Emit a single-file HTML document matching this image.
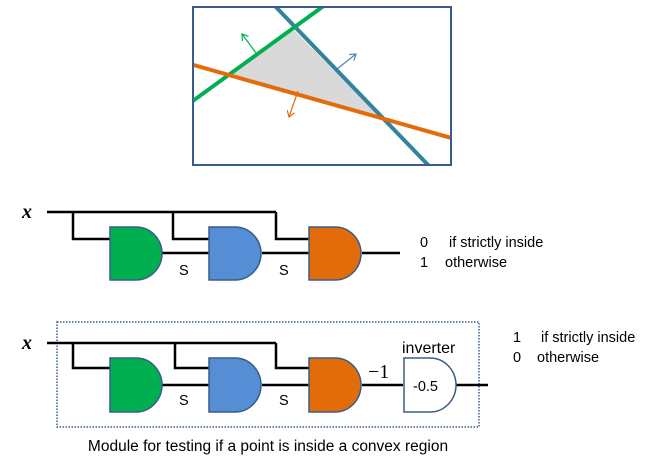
<!DOCTYPE html>
<html><head><style>body{margin:0;background:#fff}svg{display:block}text{font-family:"Liberation Sans",sans-serif;font-size:14.5px;fill:#000}</style></head><body>
<svg width="654" height="462" viewBox="0 0 654 462">
<defs>
<marker id="ag" markerWidth="8" markerHeight="8" refX="6" refY="4" orient="auto" markerUnits="userSpaceOnUse"><path d="M0,0 L6,4 L0,8" fill="none" stroke="#00b050" stroke-width="1.2"/></marker>
<marker id="ab" markerWidth="8" markerHeight="8" refX="6" refY="4" orient="auto" markerUnits="userSpaceOnUse"><path d="M0,0 L6,4 L0,8" fill="none" stroke="#4f81bd" stroke-width="1.2"/></marker>
<marker id="ao" markerWidth="8" markerHeight="8" refX="6" refY="4" orient="auto" markerUnits="userSpaceOnUse"><path d="M0,0 L6,4 L0,8" fill="none" stroke="#e36c0a" stroke-width="1.2"/></marker>
<clipPath id="c"><rect x="193" y="7" width="258" height="158"/></clipPath>
</defs>
<g clip-path="url(#c)">
<polygon points="294,30 230,75 383,120" fill="#d9d9d9"/>
<line x1="273" y1="4" x2="431" y2="168" stroke="#31849b" stroke-width="4"/>
<line x1="190" y1="103" x2="325" y2="5" stroke="#00b050" stroke-width="4"/>
<line x1="190" y1="64" x2="455" y2="139" stroke="#e36c0a" stroke-width="4"/>
</g>
<rect x="193" y="7" width="258" height="158" fill="none" stroke="#385d8a" stroke-width="2"/>
<line x1="256" y1="53" x2="242" y2="34" stroke="#00b050" stroke-width="1.2" marker-end="url(#ag)"/>
<line x1="337" y1="69" x2="356" y2="54" stroke="#4f81bd" stroke-width="1.2" marker-end="url(#ab)"/>
<line x1="298" y1="91" x2="289" y2="117" stroke="#e36c0a" stroke-width="1.2" marker-end="url(#ao)"/>

<text x="22" y="218" style="font-family:'Liberation Serif',serif;font-style:italic;font-weight:bold;font-size:20px">x</text>
<path d="M47,212 H276 M73,212 V239 H110 M173,212 V239 H209 M276,212 V239 H309 M162,253 H209 M262,253 H309 M362,253 H400" stroke="#000" stroke-width="2.5" fill="none"/>
<path d="M110,227 H136 A26,26.5 0 0 1 136,280 H110 Z" fill="#00b050" stroke="#385d8a" stroke-width="1.5"/>
<path d="M209,227 H235 A26,26.5 0 0 1 235,280 H209 Z" fill="#558ed5" stroke="#385d8a" stroke-width="1.5"/>
<path d="M309,227 H335 A26,26.5 0 0 1 335,280 H309 Z" fill="#e36c0a" stroke="#385d8a" stroke-width="1.5"/>
<text x="179" y="275">S</text><text x="279" y="275">S</text>
<text x="420" y="247">0</text><text x="449" y="247">if strictly inside</text>
<text x="420" y="267">1</text><text x="445" y="267">otherwise</text>

<rect x="57" y="322" width="422" height="105" fill="none" stroke="#385d8a" stroke-width="1.5" stroke-dasharray="1.5,1.5"/>
<text x="22" y="349" style="font-family:'Liberation Serif',serif;font-style:italic;font-weight:bold;font-size:20px">x</text>
<path d="M47,343 H276 M73,343 V368 H110 M175,343 V368 H209 M276,343 V368 H309 M162,385 H209 M262,385 H309 M362,385 H403 M456,385 H488" stroke="#000" stroke-width="2.5" fill="none"/>
<path d="M110,358 H136 A26,27 0 0 1 136,412 H110 Z" fill="#00b050" stroke="#385d8a" stroke-width="1.5"/>
<path d="M209,358 H235 A26,27 0 0 1 235,412 H209 Z" fill="#558ed5" stroke="#385d8a" stroke-width="1.5"/>
<path d="M309,358 H335 A26,27 0 0 1 335,412 H309 Z" fill="#e36c0a" stroke="#385d8a" stroke-width="1.5"/>
<path d="M404,358 H430 A26,27 0 0 1 430,412 H404 Z" fill="#fff" stroke="#385d8a" stroke-width="1.5"/>
<text x="179" y="405">S</text><text x="279" y="405">S</text>
<text x="413" y="391">-0.5</text>
<text x="402" y="353" style="font-size:16px">inverter</text>
<text x="368" y="378" style="font-family:'Liberation Serif',serif;font-size:20px">−1</text>
<text x="513" y="342">1</text><text x="541" y="342">if strictly inside</text>
<text x="513" y="362">0</text><text x="537" y="362">otherwise</text>
<text x="268" y="451" text-anchor="middle" style="font-size:15.5px">Module for testing if a point is inside a convex region</text>
</svg>
</body></html>
